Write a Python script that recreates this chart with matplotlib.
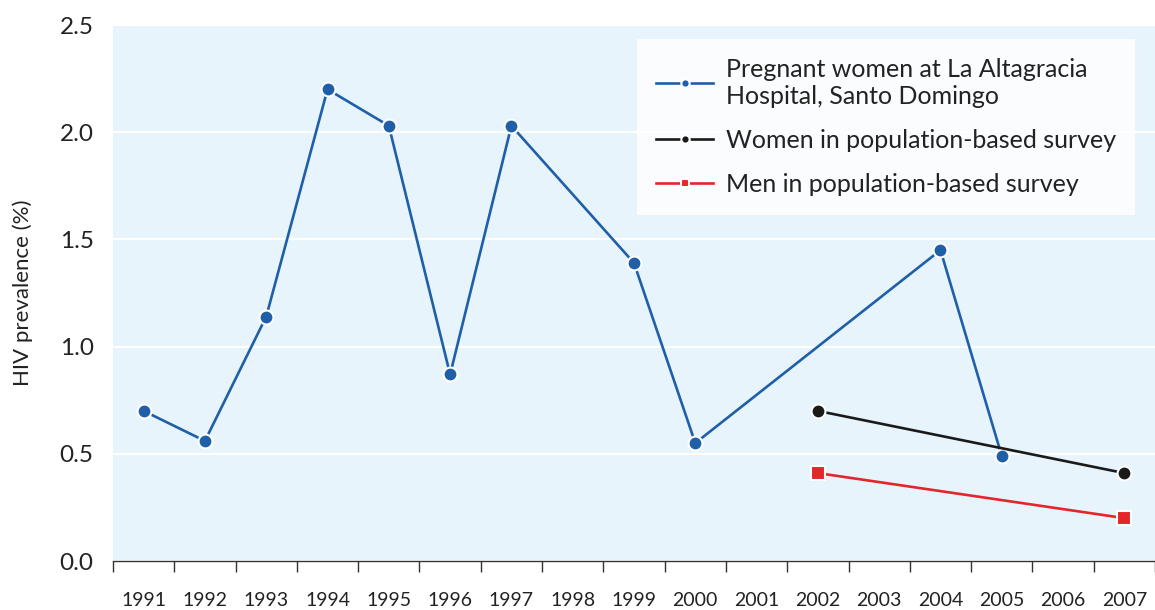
import numpy as np
import matplotlib
matplotlib.use('Agg')
import matplotlib.pyplot as plt

plt.rcParams['font.family'] = ['Lato', 'DejaVu Sans']

years = [str(y) for y in range(1991, 2008)]

# Pregnant women at La Altagracia Hospital
preg_years = ['1991', '1992', '1993', '1994', '1995', '1996', '1997', '1999', '2000', '2004', '2005']
preg_vals = [0.70, 0.56, 1.14, 2.20, 2.03, 0.87, 2.03, 1.39, 0.55, 1.45, 0.49]

# Population-based survey
survey_years = ['2002', '2007']
women_vals = [0.70, 0.41]
men_vals = [0.41, 0.20]

blue = '#1F5FA8'
black = '#1A1A1A'
red = '#E3262A'

pos = {y: i for i, y in enumerate(years)}

fig = plt.figure(figsize=(11.55, 6.1), dpi=100)
ax = fig.add_axes([113 / 1155, 49 / 610, 1 - 113 / 1155, (561 - 25) / 610])
ax.set_facecolor('#E8F4FC')

ax.plot([pos[y] for y in preg_years], preg_vals, color=blue, lw=1.9, marker='o', ms=10,
        mfc=blue, mec='white', mew=1.5, zorder=3,
        label='Pregnant women at La Altagracia\nHospital, Santo Domingo')
ax.plot([pos[y] for y in survey_years], women_vals, color=black, lw=1.9, marker='o', ms=10,
        mfc=black, mec='white', mew=1.5, zorder=3, label='Women in population-based survey')
ax.plot([pos[y] for y in survey_years], men_vals, color=red, lw=1.9, marker='s', ms=9.5,
        mfc=red, mec='white', mew=1.5, zorder=3, label='Men in population-based survey')

ax.set_xlim(-0.5, len(years) - 0.5)
ax.set_ylim(0, 2.5)
ax.set_yticks(np.arange(0, 2.51, 0.5))
ax.set_yticklabels([f'{v:.1f}' for v in np.arange(0, 2.51, 0.5)], fontsize=17.5, color='#222222')
ax.tick_params(axis='y', length=0, pad=14)
ax.yaxis.grid(True, color='white', lw=1.5)
ax.set_axisbelow(True)

ax.set_xticks(range(len(years)))
ax.set_xticklabels(years, fontsize=14, color='#222222')
ax.set_xticks(np.arange(-0.5, len(years), 1), minor=True)
ax.tick_params(axis='x', which='major', length=0, pad=22)
ax.tick_params(axis='x', which='minor', length=8, width=1, color='#333333', direction='out')

for s in ['top', 'right', 'left']:
    ax.spines[s].set_visible(False)
ax.spines['bottom'].set_color('#333333')
ax.spines['bottom'].set_linewidth(1)

ax.set_ylabel('HIV prevalence (%)', fontsize=16, color='#222222', labelpad=19)

leg = ax.legend(loc='upper left', bbox_to_anchor=(637 / 1155, 1 - 39 / 610),
                bbox_transform=fig.transFigure, fontsize=18, frameon=True, fancybox=False,
                markerscale=0.6, handlelength=2.3, borderpad=0.75, labelspacing=0.85,
                handletextpad=0.5, borderaxespad=0)
leg.get_frame().set_facecolor('white')
leg.get_frame().set_edgecolor('white')
leg.get_frame().set_linewidth(0)
for t in leg.get_texts():
    t.set_color('#222222')

fig.savefig('out.png', dpi=100)
